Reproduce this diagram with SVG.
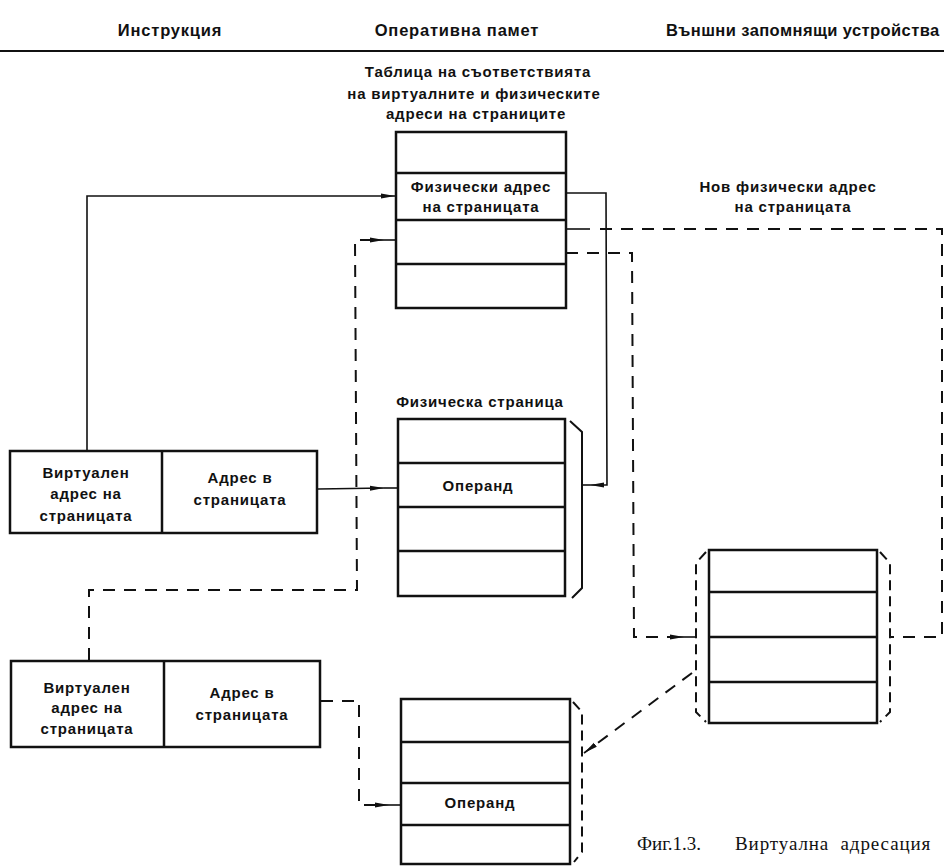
<svg xmlns="http://www.w3.org/2000/svg" width="944" height="866" viewBox="0 0 944 866">
<defs>
<style>
.lbl{font-family:"Liberation Sans","DejaVu Sans",sans-serif;font-weight:bold;font-size:15px;fill:#111;text-anchor:middle;letter-spacing:0.8px}
.hdr{font-size:16.5px}
.cap{font-family:"Liberation Serif","DejaVu Serif",serif;font-size:19px;fill:#111}
.box{fill:#fff;stroke:#111;stroke-width:2.5}
.div{stroke:#111;stroke-width:2.5}
.solid{fill:none;stroke:#111;stroke-width:1.6}
.dash{fill:none;stroke:#111;stroke-width:2;stroke-dasharray:12,9}
.brk{fill:none;stroke:#111;stroke-width:2}
.brkd{fill:none;stroke:#111;stroke-width:2;stroke-dasharray:10,6}
</style>
<marker id="ah" viewBox="0 0 14 6" refX="14" refY="3" markerWidth="14" markerHeight="6" markerUnits="userSpaceOnUse" orient="auto">
<path d="M0,0.5 L14,3 L0,5.5 Z" fill="#111"/>
</marker>
</defs>
<rect width="944" height="866" fill="#fff"/>

<g id="header">
<text class="lbl hdr" x="170" y="36">Инструкция</text>
<text class="lbl hdr" x="457" y="36">Оперативна памет</text>
<text class="lbl hdr" x="803" y="36" textLength="274">Външни запомнящи устройства</text>
<line x1="0" y1="51" x2="944" y2="51" stroke="#111" stroke-width="2"/>
</g>

<g id="table">
<text class="lbl" x="478" y="77">Таблица на съответствията</text>
<text class="lbl" x="474" y="99">на виртуалните и физическите</text>
<text class="lbl" x="476" y="119">адреси на страниците</text>
<rect class="box" x="396" y="132" width="170" height="176"/>
<line class="div" x1="396" y1="173" x2="566" y2="173"/>
<line class="div" x1="396" y1="220" x2="566" y2="220"/>
<line class="div" x1="396" y1="264" x2="566" y2="264"/>
<text class="lbl" x="481" y="192">Физически адрес</text>
<text class="lbl" x="481" y="212">на страницата</text>
</g>

<g id="new-address-label">
<text class="lbl" x="788" y="192">Нов физически адрес</text>
<text class="lbl" x="793" y="212">на страницата</text>
</g>

<g id="instruction1">
<rect class="box" x="10" y="451" width="307" height="82"/>
<line class="div" x1="162" y1="451" x2="162" y2="533"/>
<text class="lbl" x="86" y="478">Виртуален</text>
<text class="lbl" x="86" y="499">адрес на</text>
<text class="lbl" x="86" y="521">страницата</text>
<text class="lbl" x="240" y="483">Адрес в</text>
<text class="lbl" x="240" y="505">страницата</text>
</g>

<g id="instruction2">
<rect class="box" x="11" y="661" width="309" height="86"/>
<line class="div" x1="164" y1="661" x2="164" y2="747"/>
<text class="lbl" x="87" y="693">Виртуален</text>
<text class="lbl" x="87" y="713">адрес на</text>
<text class="lbl" x="87" y="734">страницата</text>
<text class="lbl" x="242" y="698">Адрес в</text>
<text class="lbl" x="242" y="720">страницата</text>
</g>

<g id="page1">
<text class="lbl" x="480" y="407">Физическа страница</text>
<rect class="box" x="398" y="419" width="167" height="177"/>
<line class="div" x1="398" y1="463" x2="565" y2="463"/>
<line class="div" x1="398" y1="507" x2="565" y2="507"/>
<line class="div" x1="398" y1="551" x2="565" y2="551"/>
<text class="lbl" x="478" y="491">Операнд</text>
<path class="brk" d="M570,421 L582,432 L582,588 L572,598"/>
</g>

<g id="page2">
<rect class="box" x="401" y="699" width="169" height="165"/>
<line class="div" x1="401" y1="742" x2="570" y2="742"/>
<line class="div" x1="401" y1="783" x2="570" y2="783"/>
<line class="div" x1="401" y1="825" x2="570" y2="825"/>
<text class="lbl" x="480" y="808">Операнд</text>
<path class="brkd" d="M573,702 L582,712 L582,852 L574,862"/>
</g>

<g id="storage">
<rect class="box" x="709" y="550" width="168" height="173"/>
<line class="div" x1="709" y1="592" x2="877" y2="592"/>
<line class="div" x1="709" y1="637" x2="877" y2="637"/>
<line class="div" x1="709" y1="682" x2="877" y2="682"/>
<path class="brkd" d="M706,552 L696,563 L696,712 L706,722"/>
<path class="brkd" d="M880,552 L890,563 L890,712 L880,722"/>
</g>

<g id="connectors">
<path class="solid" d="M87,451 L87,196 L395,196" marker-end="url(#ah)"/>
<path class="solid" d="M318,489 L384,488" marker-end="url(#ah)"/>
<line class="solid" x1="384" y1="488" x2="398" y2="488"/>
<path class="solid" d="M566,193 L606,193 L607,485 L590,485" marker-end="url(#ah)"/>
<line class="solid" x1="590" y1="485" x2="582" y2="485"/>
<path class="dash" d="M89,660 L89,590 L357,590 L355,240 L370,240"/>
<path class="solid" d="M370,240 L384,240" stroke-width="2" marker-end="url(#ah)"/>
<line class="solid" x1="384" y1="240" x2="396" y2="240" stroke-width="2"/>
<line class="solid" x1="566" y1="229" x2="590" y2="229" stroke-width="2"/>
<path class="dash" d="M600,229 L942,229 L942,637 L891,637"/>
<path class="dash" d="M566,253 L632,253 L634,637 L670,637"/>
<path class="solid" d="M670,637 L684,637" stroke-width="2" marker-end="url(#ah)"/>
<line class="solid" x1="684" y1="637" x2="696" y2="637" stroke-width="2"/>
<path class="dash" d="M692,673 L595,745"/>
<path class="solid" d="M595,745 L584,753" stroke-width="2" marker-end="url(#ah)"/>
<path class="dash" d="M321,701 L359,701 L359,805 L375,805"/>
<path class="solid" d="M375,805 L389,805" stroke-width="2" marker-end="url(#ah)"/>
<line class="solid" x1="389" y1="805" x2="401" y2="805" stroke-width="2"/>
</g>

<g id="caption">
<text class="cap" x="637" y="850">Фиг.1.3.</text>
<text class="cap" x="735" y="850" font-size="20" letter-spacing="0.9" xml:space="preserve">Виртуална  адресация</text>
</g>
</svg>
